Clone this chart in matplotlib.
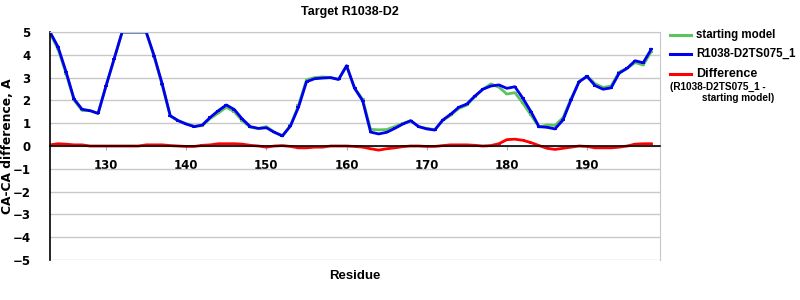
import numpy as np
import matplotlib.pyplot as plt
from matplotlib.lines import Line2D

# --- data ---
residues = np.arange(123, 199)

model_ts075 = [5.0, 4.35, 3.26, 2.06, 1.61, 1.55, 1.43, 2.65, 3.82, 5.0,
               5.0, 5.0, 5.0, 3.95, 2.72, 1.33, 1.11, 0.96, 0.85, 0.92,
               1.26, 1.55, 1.80, 1.60, 1.18, 0.85, 0.77, 0.80, 0.60, 0.45,
               0.88, 1.70, 2.82, 2.95, 2.98, 3.00, 2.92, 3.52, 2.53, 1.99,
               0.61, 0.53, 0.60, 0.77, 0.96, 1.11, 0.85, 0.75, 0.70, 1.14,
               1.40, 1.70, 1.84, 2.19, 2.49, 2.63, 2.68, 2.53, 2.60, 2.09,
               1.51, 0.85, 0.82, 0.75, 1.14, 2.02, 2.82, 3.05, 2.65, 2.49,
               2.55, 3.19, 3.41, 3.74, 3.65, 4.24]

starting_model = [4.95, 4.25, 3.18, 2.01, 1.56, 1.55, 1.43, 2.65, 3.82, 5.0,
                  5.0, 5.0, 5.0, 3.90, 2.67, 1.31, 1.11, 0.98, 0.87, 0.89,
                  1.21, 1.45, 1.70, 1.50, 1.10, 0.82, 0.77, 0.85, 0.60, 0.43,
                  0.90, 1.78, 2.90, 3.00, 3.03, 3.00, 2.92, 3.52, 2.55, 2.04,
                  0.73, 0.71, 0.72, 0.85, 0.99, 1.11, 0.85, 0.77, 0.72, 1.12,
                  1.35, 1.65, 1.79, 2.16, 2.49, 2.72, 2.58, 2.28, 2.34, 1.88,
                  1.36, 0.83, 0.92, 0.90, 1.24, 2.07, 2.82, 3.07, 2.73, 2.57,
                  2.63, 3.24, 3.41, 3.66, 3.55, 4.14]

difference = [0.05, 0.10, 0.08, 0.05, 0.05, 0.00, 0.00, 0.00, 0.00, 0.00,
              0.00, 0.00, 0.05, 0.05, 0.05, 0.02, 0.00, -0.02, -0.02, 0.03,
              0.05, 0.10, 0.10, 0.10, 0.08, 0.03, 0.00, -0.05, 0.00, 0.02,
              -0.02, -0.08, -0.08, -0.05, -0.05, 0.00, 0.00, 0.00, -0.02, -0.05,
              -0.12, -0.18, -0.12, -0.08, -0.03, 0.00, 0.00, -0.02, -0.02, 0.02,
              0.05, 0.05, 0.05, 0.03, 0.00, 0.02, 0.10, 0.28, 0.30, 0.25,
              0.15, 0.02, -0.10, -0.15, -0.10, -0.05, 0.00, -0.02, -0.08, -0.08,
              -0.08, -0.05, 0.00, 0.08, 0.10, 0.10]

x_ticks = [130, 140, 150, 160, 170, 180, 190]
y_ticks = [-5, -4, -3, -2, -1, 0, 1, 2, 3, 4, 5]

c_green = '#5cc45c'
c_blue = '#0000ee'
c_red = '#ff0000'

fig = plt.figure(figsize=(8, 3), dpi=100)
ax = fig.add_axes([0.0625, 0.1333, 0.7625, 0.76])

ax.plot(residues, starting_model, color=c_green, lw=2, marker='_', ms=3, mew=1.3)
ax.plot(residues, model_ts075, color=c_blue, lw=2, marker='_', ms=3, mew=1.3)
ax.plot(residues, difference, color=c_red, lw=2, marker='_', ms=3, mew=1.3)

ax.set_xlim(123, 199.1)
ax.set_ylim(-5, 5)
ax.set_yticks(y_ticks)
ax.set_xticks(x_ticks)
ax.yaxis.grid(True, color='#c8c8c8', lw=1)
ax.set_axisbelow(True)

# x axis drawn through zero
ax.spines['bottom'].set_position(('data', 0))
ax.spines['bottom'].set_color('black')
ax.spines['left'].set_color('black')
ax.spines['right'].set_color('#c8c8c8')
ax.spines['top'].set_color('#c8c8c8')
for s in ['left', 'bottom']:
    ax.spines[s].set_linewidth(1.2)
ax.tick_params(axis='x', direction='out', length=3, color='#b0b0b0', pad=6)
ax.tick_params(axis='y', length=0, pad=14)
for lab in ax.get_xticklabels() + ax.get_yticklabels():
    lab.set_fontweight('bold')
    lab.set_fontsize(8.5)
    lab.set_fontfamily('DejaVu Sans')

ax.set_ylabel('CA-CA difference, A', fontsize=8.8, fontweight='bold')
ax.yaxis.set_label_coords(-0.059, 0.5)
ax.set_xlabel('Residue', fontsize=9.5, fontweight='bold', family='Liberation Sans')
ax.xaxis.set_label_coords(0.5, -0.045)
fig.text(0.4375, 0.96, 'Target R1038-D2', ha='center', va='center',
         fontsize=9, fontweight='bold', family='Liberation Sans')

# --- legend, drawn by hand ---
def px(x, y):
    return x / 800, 1 - y / 300

for yy, col, txt in [(35, c_green, 'starting model'),
                     (54, c_blue, 'R1038-D2TS075_1'),
                     (74, c_red, 'Difference')]:
    x0, y0 = px(670, yy)
    x1, _ = px(691, yy)
    fig.add_artist(Line2D([x0, x1], [y0, y0], color=col, lw=2.2))
    tx, ty = px(696, yy)
    fig.text(tx, ty, txt, ha='left', va='center', fontsize=9 if txt == 'Difference' else 8.3,
             fontweight='bold', family='Liberation Sans')
tx, ty = px(670, 87)
fig.text(tx, ty, '(R1038-D2TS075_1 -', ha='left', va='center', fontsize=7.2,
         fontweight='bold', family='Liberation Sans')
tx, ty = px(702, 98)
fig.text(tx, ty, 'starting model)', ha='left', va='center', fontsize=7.2,
         fontweight='bold', family='Liberation Sans')

fig.savefig('out.png', dpi=100)
